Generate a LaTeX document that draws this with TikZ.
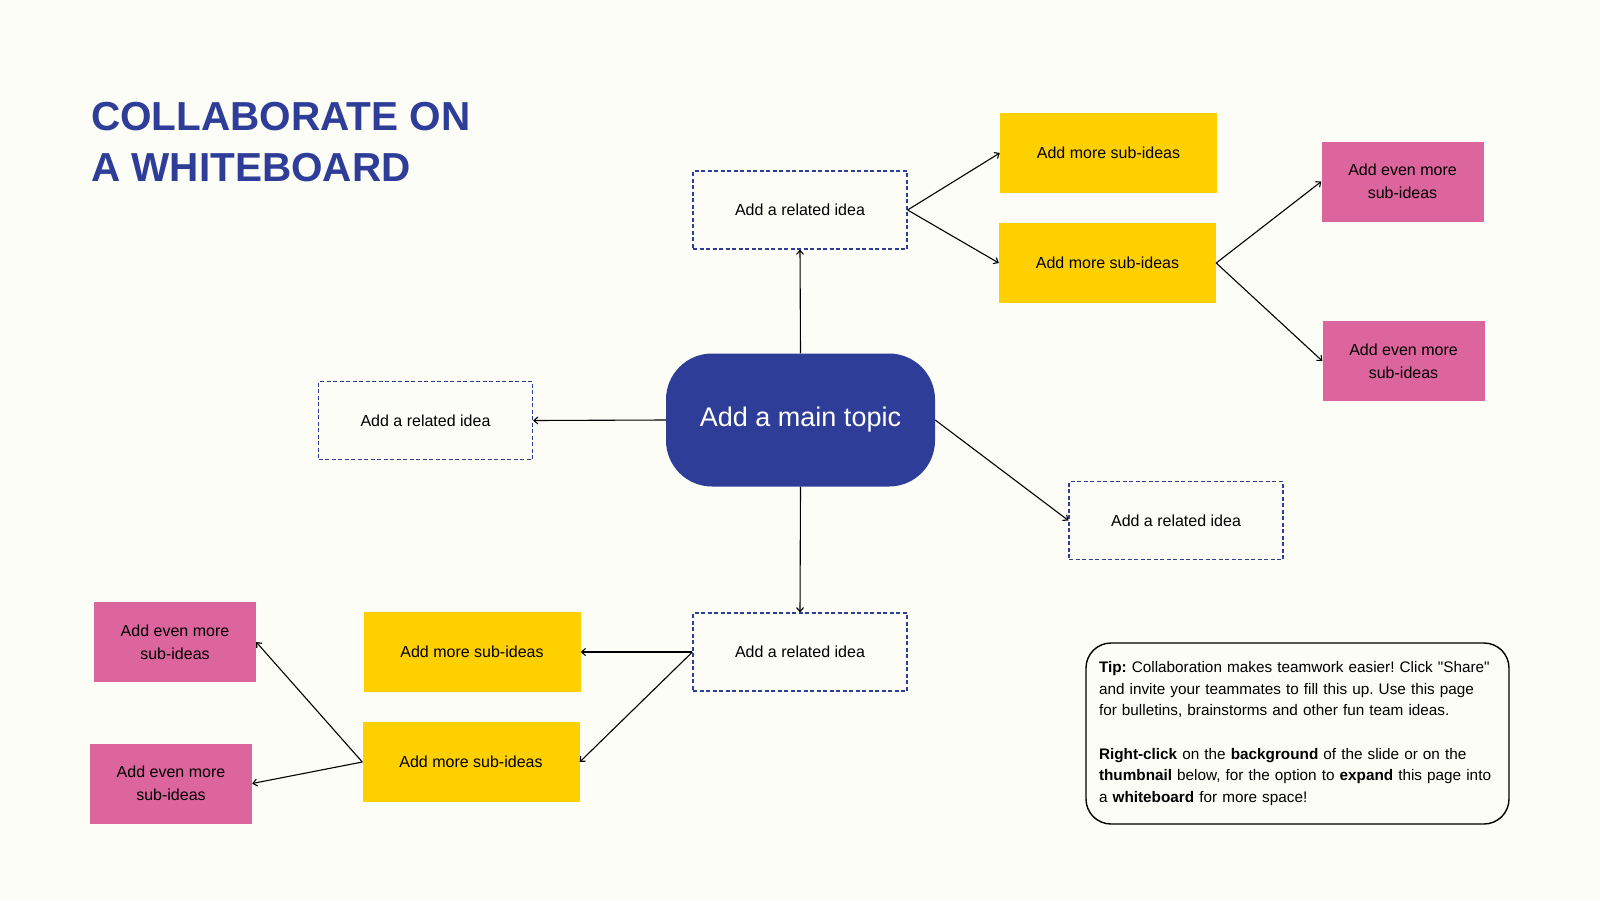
\documentclass[tikz,border=0pt]{standalone}
\usepackage{fontspec}
\setmainfont{Liberation Sans}
\usetikzlibrary{arrows.meta}
\definecolor{bg}{HTML}{FDFDF7}
\definecolor{navy}{HTML}{2E3D98}
\definecolor{yel}{HTML}{FFD000}
\definecolor{pnk}{HTML}{DC659D}
\frenchspacing
\begin{document}
\begin{tikzpicture}[x=1pt,y=-1pt,
  idea/.style={draw=navy, dash pattern=on 4pt off 2.5pt, line width=1.2pt, fill=bg,
    minimum width=214pt, minimum height=78pt, inner sep=0pt, font=\fontsize{16}{20}\selectfont},
  subbox/.style={fill=yel, minimum width=217pt, minimum height=80pt, inner sep=0pt,
    font=\fontsize{16}{20}\selectfont},
  evenbox/.style={fill=pnk, minimum width=162pt, minimum height=80pt, inner sep=0pt,
    align=center, font=\fontsize{16}{23}\selectfont},
  arr/.style={-{Straight Barb[length=4pt,width=7pt]}, line width=1.1pt},
  titletext/.style={anchor=base west, text=navy, inner sep=0pt, font=\fontsize{40.5}{48}\selectfont\bfseries}]
\fill[bg] (0,0) rectangle (1600,900);
\useasboundingbox (0,0) rectangle (1600,900);

\node[titletext] (t1) at (91,130) {COLLABORATE ON};
\node[titletext] (t2) at (91,181) {A WHITEBOARD};

\node[fill=navy, rounded corners=46pt, minimum width=269pt, minimum height=133pt, text=white,
  font=\fontsize{27}{32}\selectfont] (main) at (800.5,420) {Add a main topic};

\node[idea] (rtop) at (800,210) {Add a related idea};
\node[idea] (rleft) at (425.5,420.5) {Add a related idea};
\node[idea] (rright) at (1176,520.5) {Add a related idea};
\node[idea] (rbot) at (800,652) {Add a related idea};

\node[subbox] (s1) at (1108.5,153) {Add more sub-ideas};
\node[subbox] (s2) at (1107.5,263) {Add more sub-ideas};
\node[subbox] (s3) at (472,652) {Add more sub-ideas};
\node[subbox] (s4) at (471,762) {Add more sub-ideas};

\node[evenbox] (e1) at (1402.5,181.5) {Add even more\\sub-ideas};
\node[evenbox] (e2) at (1403.5,361) {Add even more\\sub-ideas};
\node[evenbox] (e3) at (175,642) {Add even more\\sub-ideas};
\node[evenbox] (e4) at (171,783.5) {Add even more\\sub-ideas};

\node[draw=black, line width=1.4pt, rounded corners=25pt, minimum width=423pt, minimum height=181pt,
  inner xsep=13pt, text width=397pt, align=left, font=\fontsize{15.3}{21.6}\selectfont] (tip) at (1297.5,733.5)
  {\textbf{Tip:} Collaboration makes teamwork easier! Click \textquotedbl Share\textquotedbl\\
   and invite your teammates to fill this up. Use this page\\
   for bulletins, brainstorms and other fun team ideas.\\[21.6pt]
   \textbf{Right-click} on the \textbf{background} of the slide or on the\\
   \textbf{thumbnail} below, for the option to \textbf{expand} this page into\\
   a \textbf{whiteboard} for more space!};

\draw[arr] (main.north) -- (rtop.south);
\draw[arr] (main.west) -- (rleft.east);
\draw[arr] (main.east) -- (rright.west);
\draw[arr] (main.south) -- (rbot.north);
\draw[arr] (rtop.east) -- (s1.west);
\draw[arr] (rtop.east) -- (s2.west);
\draw[arr] (s2.east) -- (e1.west);
\draw[arr] (s2.east) -- (e2.west);
\draw[arr] (rbot.west) -- (s3.east);
\draw[arr] (rbot.west) -- (s4.east);
\draw[arr] (s4.west) -- (e3.east);
\draw[arr] (s4.west) -- (e4.east);
\end{tikzpicture}
\end{document}
